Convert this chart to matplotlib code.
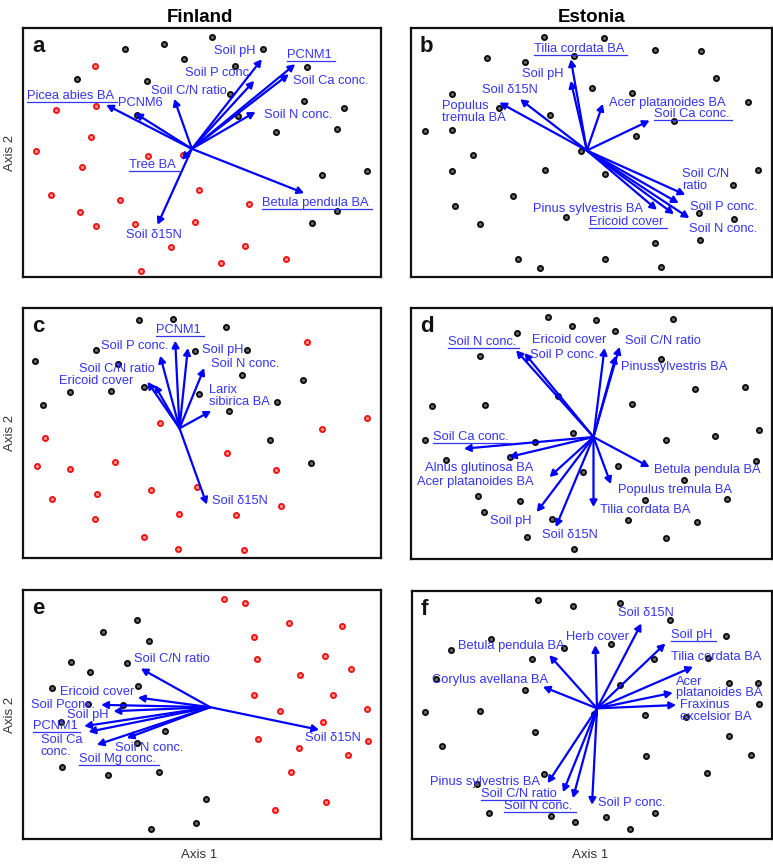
import matplotlib
matplotlib.use('Agg')
import matplotlib.pyplot as plt
from matplotlib.lines import Line2D

plt.rcParams['font.family'] = ['Liberation Sans', 'DejaVu Sans']

W, H = 773, 864

# ---------------- Panel a (Finland) ----------------
A_BLACK = [(375,58),(490,42),(635,22),(552,88),(790,57),(705,108),(922,112),(230,148),(440,152),
           (690,193),(912,214),(1032,234),(410,255),(715,257),(828,306),(1012,296),(966,437),
           (1100,425),(1010,545),(937,580)]
A_RED = [(283,108),(167,240),(287,227),(272,322),(106,362),(246,413),(443,380),(548,375),(153,495),
         (358,511),(596,481),(747,523),(240,546),(287,590),(405,582),(585,576),(513,652),(734,648),
         (664,700),(859,689),(423,723)]
A_ORIGIN = (575,357)
A_VEC = {'Soil pH':(785,88), 'PCNM1':(885,103), 'Soil Ca conc.':(866,133), 'Soil P conc.':(762,153),
         'Soil C/N ratio':(522,207), 'PCNM6':(405,250), 'Picea abies BA':(318,225),
         'Soil N conc.':(766,246), 'Tree BA':(545,390), 'Soil δ15N':(472,585),
         'Betula pendula BA':(912,490)}
A_LABELS = [('Soil pH',643,62,False),('PCNM1',862,75,True),('Soil Ca conc.',880,152,False),
            ('Soil P conc.',555,130,False),('Soil C/N ratio',452,182,False),
            ('Picea abies BA',80,197,True),('PCNM6',352,218,False),('Soil N conc.',792,256,False),
            ('Tree BA',387,405,True),('Betula pendula BA',787,520,True),('Soil δ15N',378,615,False)]

# ---------------- Panel b (Estonia) ----------------
B_BLACK = [(477,22),(657,25),(808,60),(947,62),(305,85),(420,97),(568,78),(993,143),(200,193),
           (620,175),(740,190),(1088,215),(343,233),(495,255),(866,272),(120,303),(200,300),
           (753,318),(587,362),(263,375),(200,425),(480,422),(660,433),(1118,421),(1043,467),
           (385,500),(210,530),(542,563),(940,550),(1047,569),(285,583),(943,630),(810,640),
           (400,688),(660,688),(466,716),(827,712)]
B_RED = []
B_ORIGIN = (605,362)
B_VEC = {'Tilia cordata BA':(557,88), 'Soil pH':(557,153), 'Soil δ15N':(405,208),
         'Populus tremula BA':(343,218), 'Acer platanoides BA':(653,222), 'Soil Ca conc.':(793,272),
         'Soil C/N ratio':(900,495), 'Soil P conc.':(880,520), 'Pinus sylvestris BA':(815,540),
         'Ericoid cover':(866,553), 'Soil N conc.':(912,565)}
B_LABELS = [('Tilia cordata BA',447,57,True),('Soil pH',410,133,False),('Soil δ15N',290,180,False),
            ('Populus\ntremula BA',172,246,False),('Acer platanoides BA',670,218,False),
            ('Soil Ca conc.',805,252,True),('Soil C/N\nratio',890,450,False),
            ('Soil P conc.',915,533,False),('Pinus sylvestris BA',443,538,False),
            ('Ericoid cover',612,577,True),('Soil N conc.',912,598,False)]

# ---------------- Panel c (Finland) ----------------
C_BLACK = [(415,92),(517,88),(677,113),(288,182),(583,183),(742,182),(105,213),(352,222),(725,255),
           (910,270),(208,307),(332,303),(432,290),(597,311),(128,345),(832,337),(687,363),
           (811,450),(932,518)]
C_RED = [(920,158),(1100,383),(965,417),(478,398),(133,445),(680,488),(110,527),(208,538),(344,516),
         (827,541),(155,625),(289,612),(453,600),(590,592),(843,647),(284,687),(535,672),(707,675),
         (432,739),(533,776),(733,779)]
C_ORIGIN = (538,415)
C_VEC = {'PCNM1':(525,153), 'Soil P conc.':(480,198), 'Soil pH':(563,175), 'Soil N conc.':(612,235),
         'Soil C/N ratio':(463,285), 'Ericoid cover':(442,276), 'Larix sibirica BA':(633,363),
         'Soil δ15N':(620,643)}
C_LABELS = [('PCNM1',468,122,True),('Soil P conc.',303,170,False),('Soil pH',605,182,False),
            ('Soil N conc.',633,222,False),('Soil C/N ratio',237,237,False),
            ('Ericoid cover',177,273,False),('Larix\nsibirica BA',628,318,False),
            ('Soil δ15N',637,633,False)]

# ---------------- Panel d (Estonia) ----------------
D_BLACK = [(490,83),(560,108),(632,91),(862,88),(395,130),(690,123),(285,198),(826,208),(930,297),
           (1078,292),(518,320),(140,348),(300,347),(740,343),(565,430),(120,450),(450,457),
           (843,452),(990,440),(1120,420),(183,512),(375,503),(595,548),(697,530),(1112,513),
           (896,570),(278,618),(405,635),(780,630),(1025,628),(297,667),(500,688),(727,690),
           (935,697),(425,742),(842,745),(568,777)]
D_RED = []
D_ORIGIN = (625,442)
D_VEC = {'Soil N conc.':(393,182), 'Soil P conc.':(418,190), 'Ericoid cover':(658,175),
         'Soil C/N ratio':(703,172), 'Pinus sylvestris BA':(692,198), 'Soil Ca conc.':(237,477),
         'Alnus glutinosa BA':(372,502), 'Acer platanoides BA':(493,562), 'Soil pH':(455,667),
         'Soil δ15N':(512,712), 'Tilia cordata BA':(625,652), 'Populus tremula BA':(677,583),
         'Betula pendula BA':(793,532)}
D_LABELS = [('Soil N conc.',188,158,True),('Ericoid cover',440,150,False),
            ('Soil P conc.',435,197,False),('Soil C/N ratio',718,153,False),
            ('Pinussylvestris BA',707,232,False),('Soil Ca conc.',143,442,True),
            ('Alnus glutinosa BA',120,535,False),('Acer platanoides BA',97,577,False),
            ('Betula pendula BA',807,540,False),('Populus tremula BA',697,602,False),
            ('Tilia cordata BA',645,662,False),('Soil pH',315,695,False),('Soil δ15N',470,735,False)]

# ---------------- Panel e (Finland) ----------------
E_BLACK = [(410,150),(307,185),(447,212),(213,277),(270,305),(380,280),(155,355),(412,347),(262,402),
           (368,405),(183,457),(495,484),(410,520),(184,593),(322,617),(475,607),(617,687),
           (587,760),(451,778)]
E_RED = [(672,88),(735,100),(867,160),(1027,168),(761,200),(772,268),(975,258),(1053,296),(900,315),
         (763,375),(998,375),(840,424),(1100,416),(970,457),(775,507),(1105,513),(898,536),
         (1043,555),(873,607),(978,697),(826,720)]
E_ORIGIN = (630,412)
E_VEC = {'Soil C/N ratio':(422,296), 'Ericoid cover':(413,383), 'Soil P conc.':(303,405),
         'Soil pH':(340,424), 'PCNM1':(252,469), 'Soil Ca conc.':(265,486), 'Soil Mg conc.':(290,525),
         'Soil N conc.':(380,505), 'Soil δ15N':(957,480)}
E_LABELS = [('Soil C/N ratio',402,268,False),('Ericoid cover',180,365,False),
            ('Soil Pconc.',93,405,False),('Soil pH',200,437,False),('PCNM1',97,470,True),
            ('Soil Ca\nconc.',122,529,False),('Soil N conc.',343,535,False),
            ('Soil Mg conc.',235,568,True),('Soil δ15N',915,505,False)]

# ---------------- Panel f (Estonia) ----------------
F_BLACK = [(457,88),(563,108),(703,97),(855,150),(1023,197),(317,205),(197,238),(537,233),(678,222),
           (440,268),(805,268),(968,263),(153,328),(1032,340),(1117,338),(418,360),(705,345),
           (120,425),(283,422),(1120,403),(627,432),(780,435),(903,442),(448,487),(1030,498),
           (171,528),(782,557),(1098,555),(966,609),(475,613),(275,643),(312,730),(497,738),
           (570,757),(663,743),(808,730),(735,778)]
F_RED = []
F_ORIGIN = (635,415)
F_VEC = {'Soil δ15N':(768,160), 'Herb cover':(630,225), 'Soil pH':(840,220),
         'Betula pendula BA':(492,255), 'Tilia cordata BA':(923,290), 'Corylus avellana BA':(473,350),
         'Acer platanoides BA':(862,368), 'Fraxinus excelsior BA':(872,405),
         'Pinus sylvestris BA':(487,640), 'Soil C/N ratio':(533,667), 'Soil N conc.':(563,685),
         'Soil P conc.':(620,705)}
F_LABELS = [('Soil δ15N',697,127,False),('Herb cover',543,200,False),('Soil pH',857,195,True),
            ('Betula pendula BA',218,228,False),('Tilia cordata BA',857,262,False),
            ('Corylus avellana BA',140,330,False),('Acer\nplatanoides BA',873,352,False),
            ('Fraxinus\nexcelsior BA',883,423,False),('Pinus sylvestris BA',133,636,False),
            ('Soil C/N ratio',287,673,True),('Soil N conc.',357,710,True),
            ('Soil P conc.',637,700,False)]

PANELS = [
    ('a', (23, 28, 381, 277), (68, 1143, -6, 742), A_BLACK, A_RED, A_ORIGIN, A_VEC, A_LABELS),
    ('b', (411, 28, 772, 277), (78, 1160, -6, 742), B_BLACK, B_RED, B_ORIGIN, B_VEC, B_LABELS),
    ('c', (23, 308, 381, 558), (68, 1143, 55, 803), C_BLACK, C_RED, C_ORIGIN, C_VEC, C_LABELS),
    ('d', (411, 308, 772, 559), (78, 1160, 55, 808), D_BLACK, D_RED, D_ORIGIN, D_VEC, D_LABELS),
    ('e', (23, 590, 381, 839), (68, 1143, 60, 808), E_BLACK, E_RED, E_ORIGIN, E_VEC, E_LABELS),
    ('f', (412, 591, 772, 839), (80, 1160, 62, 808), F_BLACK, F_RED, F_ORIGIN, F_VEC, F_LABELS),
]

TXT_COLOR = '#3434f4'
ARROW_COLOR = '#0000ff'
FS = 9.3

fig = plt.figure(figsize=(W / 100, H / 100), dpi=100)
underlined = []

for letter, (x0, y0, x1, y1), (lx0, lx1, ly_top, ly_bot), black, red, origin, vec, labels in PANELS:
    ax = fig.add_axes([x0 / W, 1 - y1 / H, (x1 - x0) / W, (y1 - y0) / H])
    ax.set_xlim(lx0, lx1)
    ax.set_ylim(ly_bot, ly_top)
    ax.set_xticks([])
    ax.set_yticks([])
    for s in ax.spines.values():
        s.set_linewidth(1.6)
        s.set_color('#111111')
    if black:
        bx, by = zip(*black)
        ax.plot(bx, by, 'o', ms=3.7, mfc='#666666', mec='#0a0a0a', mew=1.3, ls='none', zorder=2)
    if red:
        rx, ry = zip(*red)
        ax.plot(rx, ry, 'o', ms=3.7, mfc='#ff9090', mec='#ee1111', mew=1.3, ls='none', zorder=2)
    for name, tip in vec.items():
        ax.annotate('', xy=tip, xytext=origin,
                    arrowprops=dict(arrowstyle='-|>,head_length=0.55,head_width=0.3',
                                    color=ARROW_COLOR, lw=1.6, shrinkA=0, shrinkB=0,
                                    mutation_scale=7),
                    zorder=3)
    for text, tx, ty, ul in labels:
        t = ax.text(tx, ty, text, color=TXT_COLOR, fontsize=FS, ha='left', va='center',
                    linespacing=0.95, zorder=4)
        if ul:
            underlined.append(t)
    ax.text(0.025, 0.925, letter, transform=ax.transAxes, fontsize=16, fontweight='bold',
            ha='left', va='center', color='#111111')

# column titles
fig.text(200 / W, 1 - 18 / H, 'Finland', ha='center', va='center', fontsize=13.5, fontweight='bold')
fig.text(592 / W, 1 - 18 / H, 'Estonia', ha='center', va='center', fontsize=13.5, fontweight='bold')

# axis labels
for yc in [(28 + 277) / 2, (308 + 558) / 2, (590 + 839) / 2]:
    fig.text(10 / W, 1 - yc / H, 'Axis 2', rotation=90, ha='center', va='center',
             fontsize=9.5, color='#333333')
for xc in [199, 590]:
    fig.text(xc / W, 1 - 855 / H, 'Axis 1', ha='center', va='center', fontsize=9.5, color='#333333')

# underlines
fig.canvas.draw()
r = fig.canvas.get_renderer()
inv = fig.transFigure.inverted()
for t in underlined:
    bb = t.get_window_extent(r)
    (fx0, fy0) = inv.transform((bb.x0, bb.y0))
    (fx1, _) = inv.transform((bb.x1 + 3, bb.y0))
    fig.add_artist(Line2D([fx0, fx1], [fy0, fy0], transform=fig.transFigure,
                          color=TXT_COLOR, lw=0.9))

fig.savefig('out.png', dpi=100)
